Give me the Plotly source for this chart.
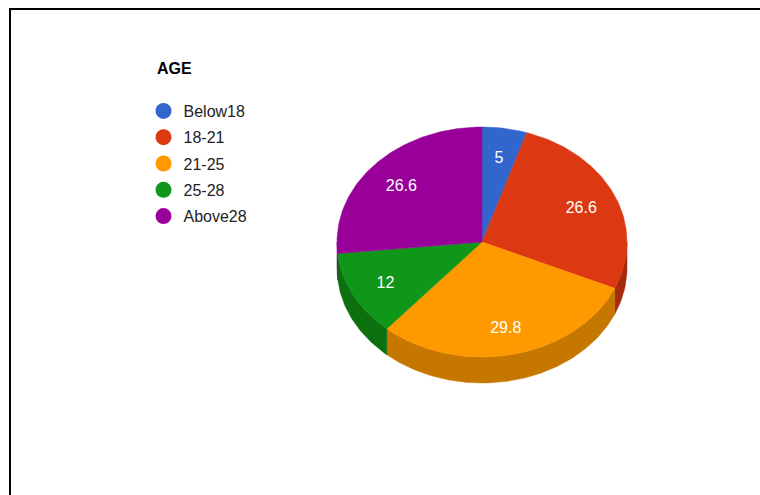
import numpy as np
import plotly.graph_objects as go

# Age distribution (percent of respondents)
categories = ["Below18", "18-21", "21-25", "25-28", "Above28"]
values = [5, 26.6, 29.8, 12, 26.6]
top_colors = ["#3366cc", "#dc3912", "#ff9900", "#109618", "#990099"]
side_colors = ["#244a96", "#a62b0e", "#c67700", "#0c700f", "#710071"]

W, H = 760, 495
CX, CY = 482, 242      # centre of the pie's top face (px)
RX, RY = 145, 115      # tilted radii (px)
DEPTH = 26             # thickness of the 3D rim (px)
LABEL_R = 0.75         # label distance as a fraction of the radius
LABEL_DY = 2.5         # small downward nudge for the value labels (px)
FONT = "Arial, Liberation Sans, sans-serif"


def pt(angle_deg, r=1.0, dy=0.0):
    a = np.radians(angle_deg)
    return CX + r * RX * np.sin(a), CY - r * RY * np.cos(a) + dy


def arc(a1, a2, dy=0.0):
    n = max(int(abs(a2 - a1)), 2) + 1
    angs = np.linspace(a1, a2, n)
    xs, ys = pt(angs, 1.0, dy)
    return list(xs), list(ys)


total = sum(values)
bounds = np.concatenate([[0], np.cumsum(values)]) / total * 360.0

fig = go.Figure()

# rim (visible front half only, 90..270 degrees clockwise from 12 o'clock)
for i, v in enumerate(values):
    lo, hi = max(bounds[i], 90), min(bounds[i + 1], 270)
    if lo >= hi:
        continue
    tx, ty = arc(lo, hi)
    bx, by = arc(hi, lo, DEPTH)
    fig.add_trace(go.Scatter(
        x=tx + bx + [tx[0]], y=ty + by + [ty[0]],
        fill="toself", fillcolor=side_colors[i], mode="lines",
        line=dict(width=0.5, color=side_colors[i]),
        hoverinfo="skip", showlegend=False))

# top face wedges
for i, v in enumerate(values):
    ax, ay = arc(bounds[i], bounds[i + 1])
    fig.add_trace(go.Scatter(
        x=[CX] + ax + [CX], y=[CY] + ay + [CY],
        fill="toself", fillcolor=top_colors[i], mode="lines",
        line=dict(width=0.5, color=top_colors[i]),
        name=categories[i], hoverinfo="name", showlegend=False))

# value labels on each wedge
mids = (bounds[:-1] + bounds[1:]) / 2
lx, ly = pt(mids, LABEL_R, LABEL_DY)
fig.add_trace(go.Scatter(
    x=list(lx), y=list(ly), mode="text",
    text=[f"{v:g}" for v in values],
    textfont=dict(family=FONT, size=16, color="white"),
    hoverinfo="skip", showlegend=False))

# legend entries
for i, name in enumerate(categories):
    fig.add_trace(go.Scatter(
        x=[None], y=[None], mode="markers", name=name,
        legendgroup=name,
        marker=dict(symbol="circle", size=16, color=top_colors[i]),
        showlegend=True))

fig.update_layout(
    width=W, height=H,
    margin=dict(l=0, r=0, t=0, b=0),
    paper_bgcolor="white", plot_bgcolor="white",
    xaxis=dict(range=[0, W], visible=False, fixedrange=True),
    yaxis=dict(range=[H, 0], visible=False, fixedrange=True),
    title=dict(text="<b>AGE</b>", x=157 / W, xanchor="left",
               y=1 - 68 / H, yanchor="middle",
               font=dict(family=FONT, size=16, color="#000000")),
    legend=dict(x=143.5 / W, xanchor="left", y=1 - 94 / H, yanchor="top",
                font=dict(family=FONT, size=16, color="#222222"),
                bgcolor="rgba(0,0,0,0)", itemwidth=30, tracegroupgap=2.5),
    shapes=[
        dict(type="line", xref="paper", yref="paper", x0=9 / W, x1=1, y0=1 - 9 / H, y1=1 - 9 / H,
             line=dict(color="black", width=2)),
        dict(type="line", xref="paper", yref="paper", x0=10 / W, x1=10 / W, y0=0, y1=1 - 8 / H,
             line=dict(color="black", width=2)),
    ],
    showlegend=True,
)

fig.write_html("out.html")
